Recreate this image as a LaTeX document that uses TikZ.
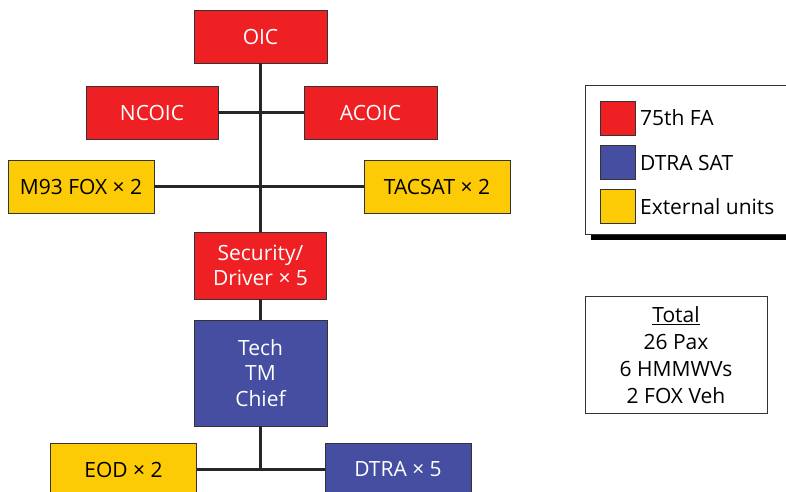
\documentclass[tikz,border=0pt]{standalone}
\usepackage{fontspec}
\setmainfont{Open Sans}
\definecolor{fared}{HTML}{EE2024}
\definecolor{satblue}{HTML}{454EA0}
\definecolor{extyellow}{HTML}{FCCB05}
\begin{document}
\begin{tikzpicture}[x=1pt,y=-1pt]
\tikzstyle{unit}=[draw=black!80,line width=0.8pt,inner sep=0pt,minimum height=53pt,align=center,font=\fontsize{21}{25.5}\selectfont]
\tikzstyle{fa}=[unit,fill=fared,text=white]
\tikzstyle{sat}=[unit,fill=satblue,text=white]
\tikzstyle{ext}=[unit,fill=extyellow,text=black]
\tikzstyle{link}=[line width=3.5pt,draw=black!85]
\tikzstyle{keytext}=[anchor=west,inner sep=0pt,font=\fontsize{21}{25.5}\selectfont]
\clip (0,0) rectangle (786,491);

\path (260.5,36.5) node[fa,minimum width=133pt](oic){OIC}
 (152,112.5) node[fa,minimum width=132pt](ncoic){NCOIC}
 (370.5,112.5) node[fa,minimum width=133pt](acoic){ACOIC};
\path (81,186.5) node[ext,minimum width=146pt](fox){M93 FOX × 2}
 (437,186.5) node[ext,minimum width=146pt](tacsat){TACSAT × 2};
\path (260.5,265.5) node[fa,minimum width=132pt,minimum height=67pt](sec){Security/\\Driver × 5}
 (260.5,373) node[sat,minimum width=133pt,minimum height=106pt](tech){Tech\\TM\\Chief};
\path (123.5,469.5) node[ext,minimum width=146pt](eod){EOD × 2}
 (398,469.5) node[sat,minimum width=146pt](dtra){DTRA × 5};

\draw[link] (oic) -- (sec);
\draw[link] (ncoic) -- (acoic);
\draw[link] (fox) -- (tacsat);
\draw[link] (sec) -- (tech);
\draw[link] (eod) -- (dtra);
\draw[link] (tech) -- (tech |- eod);

% key
\fill[black] (591,91) rectangle (820,240);
\draw[fill=white,draw=black!80,line width=0.8pt] (585,85) rectangle (814,234);
\path (618,118) node[fa,minimum width=35pt,minimum height=34pt](keyfa){}
 (618,162.5) node[sat,minimum width=35pt,minimum height=34pt](keysat){}
 (618,206.5) node[ext,minimum width=35pt,minimum height=34pt](keyext){};
\node[keytext] (labfa) at ([xshift=4pt]keyfa.east) {75th FA};
\node[keytext] (labsat) at ([xshift=4pt]keysat.east) {DTRA SAT};
\node[keytext] (labext) at ([xshift=4pt]keyext.east) {External units};

% totals
\node[draw=black!80,line width=0.8pt,minimum width=182pt,minimum height=117pt,inner sep=0pt,align=center,font=\fontsize{21}{27}\selectfont] (total) at (676,355)
 {\underline{Total}\\26 Pax\\6 HMMWVs\\2 FOX Veh};
\end{tikzpicture}
\end{document}
